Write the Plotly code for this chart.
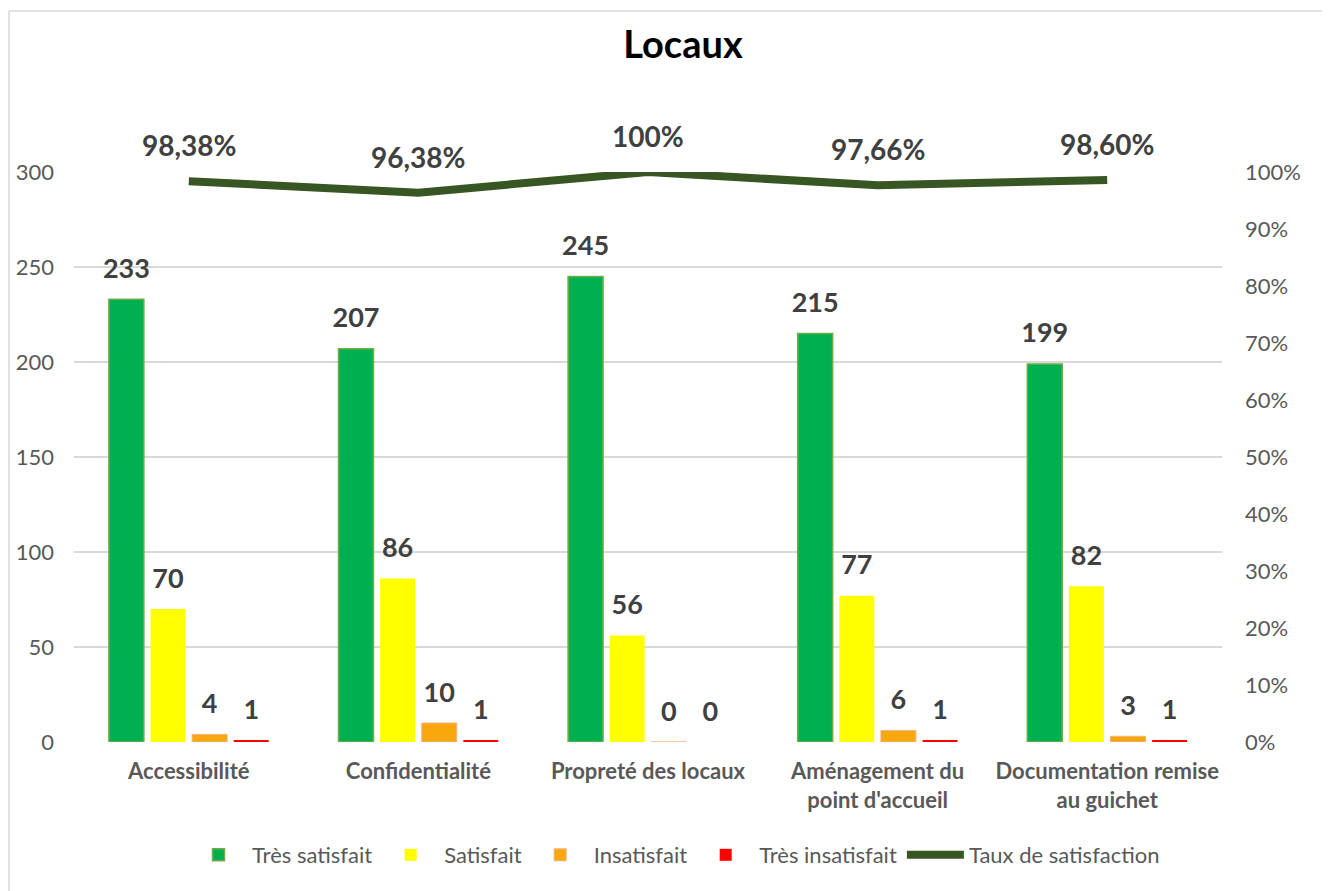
import plotly.graph_objects as go

categories = ["Accessibilité", "Confidentialité", "Propreté des locaux",
              "Aménagement du<br>point d'accueil", "Documentation remise<br>au guichet"]
tres_satisfait = [233, 207, 245, 215, 199]
satisfait = [70, 86, 56, 77, 82]
insatisfait = [4, 10, 0, 6, 3]
tres_insatisfait = [1, 1, 0, 1, 1]
taux = [0.9838, 0.9638, 1.0, 0.9766, 0.9860]
taux_labels = ["98,38%", "96,38%", "100%", "97,66%", "98,60%"]

FONT = "Lato"
LABEL_COLOR = "#404040"
AXIS_COLOR = "#595959"

# page body has an 8px margin: figure is sized/offset to compensate
W, H = 1322, 883
L, R, T, B = 66, 108, 164, 149
PW, PH = W - L - R, H - T - B

fig = go.Figure()

series = [
    ("Très satisfait", tres_satisfait, "#00B050", "#70AD47", 1.5),
    ("Satisfait", satisfait, "#FFFF00", "#FFFF00", 0),
    ("Insatisfait", insatisfait, "#F8A70D", "#F4B183", 1),
    ("Très insatisfait", tres_insatisfait, "#FF0000", "#FF0000", 0),
]
for i, (name, vals, fill, edge, w) in enumerate(series):
    fig.add_trace(go.Bar(
        name=name, x=categories, y=vals,
        marker=dict(color=fill, line=dict(color=edge, width=w)),
        offsetgroup=str(i), alignmentgroup="bars",
        cliponaxis=False,
    ))
# value labels, aligned with the grouped bars
for i, (name, vals, fill, edge, w) in enumerate(series):
    fig.add_trace(go.Scatter(
        x=categories, y=vals, mode="markers+text",
        text=[f"<b>{v}</b>" for v in vals], textposition="top center",
        textfont=dict(family=FONT, size=27, color=LABEL_COLOR),
        marker=dict(size=22, color="rgba(0,0,0,0)"),
        offsetgroup=str(i), alignmentgroup="bars",
        showlegend=False, hoverinfo="skip", cliponaxis=False,
    ))

fig.add_trace(go.Scatter(
    name="Taux de satisfaction", x=categories, y=taux, yaxis="y2",
    mode="lines", line=dict(color="#375623", width=8),
    alignmentgroup="line", offsetgroup="line",
    cliponaxis=False,
))

for c, v, t in zip(categories, taux, taux_labels):
    fig.add_annotation(x=c, y=v, xref="x", yref="y2", text=f"<b>{t}</b>",
                       showarrow=False, yshift=36,
                       font=dict(family=FONT, size=28, color=LABEL_COLOR))

fig.update_layout(
    width=W, height=H,
    paper_bgcolor="white", plot_bgcolor="white",
    margin=dict(l=L, r=R, t=T, b=B, autoexpand=False),
    barmode="group", bargap=0.275, bargroupgap=0.16,
    scattermode="group", scattergap=0.275,
    title=dict(text="<b>Locaux</b>", x=675 / W, xanchor="center",
               y=1 - 37 / H, yanchor="middle",
               font=dict(family=FONT, size=38, color="#000000")),
    font=dict(family=FONT, color=AXIS_COLOR),
    showlegend=True,
    legend=dict(orientation="h", x=(667 - L) / PW, xanchor="center", y=-113 / PH, yanchor="middle",
                font=dict(family=FONT, size=22, color=AXIS_COLOR),
                itemwidth=57, traceorder="normal"),
    xaxis=dict(range=[-0.5, len(categories) - 0.5], showgrid=False, showline=False,
               ticks="", ticklabelstandoff=14, automargin=False,
               tickfont=dict(family=FONT, size=22, color=AXIS_COLOR, weight="bold")),
    yaxis=dict(range=[0, 300], dtick=50, showgrid=True, gridcolor="#D9D9D9", gridwidth=1.5,
               zeroline=False, showline=False, ticks="",
               ticklabelstandoff=19, automargin=False,
               tickfont=dict(family=FONT, size=22, color=AXIS_COLOR)),
    yaxis2=dict(range=[0, 1], dtick=0.1, tickformat=".0%", overlaying="y", side="right",
                showgrid=False, zeroline=False, showline=False, ticks="", ticklabelstandoff=22,
                automargin=False,
                tickfont=dict(family=FONT, size=22, color=AXIS_COLOR)),
)

# chart border (left and top edges)
bx = (1 - L) / PW
by = (PH + T - 3) / PH
fig.add_shape(type="line", xref="paper", yref="paper",
              x0=bx, x1=bx, y0=-B / PH, y1=by,
              line=dict(color="#D9D9D9", width=1.5))
fig.add_shape(type="line", xref="paper", yref="paper",
              x0=bx, x1=(W - L) / PW, y0=by, y1=by,
              line=dict(color="#D9D9D9", width=1.5))

fig.write_html("out.html")
